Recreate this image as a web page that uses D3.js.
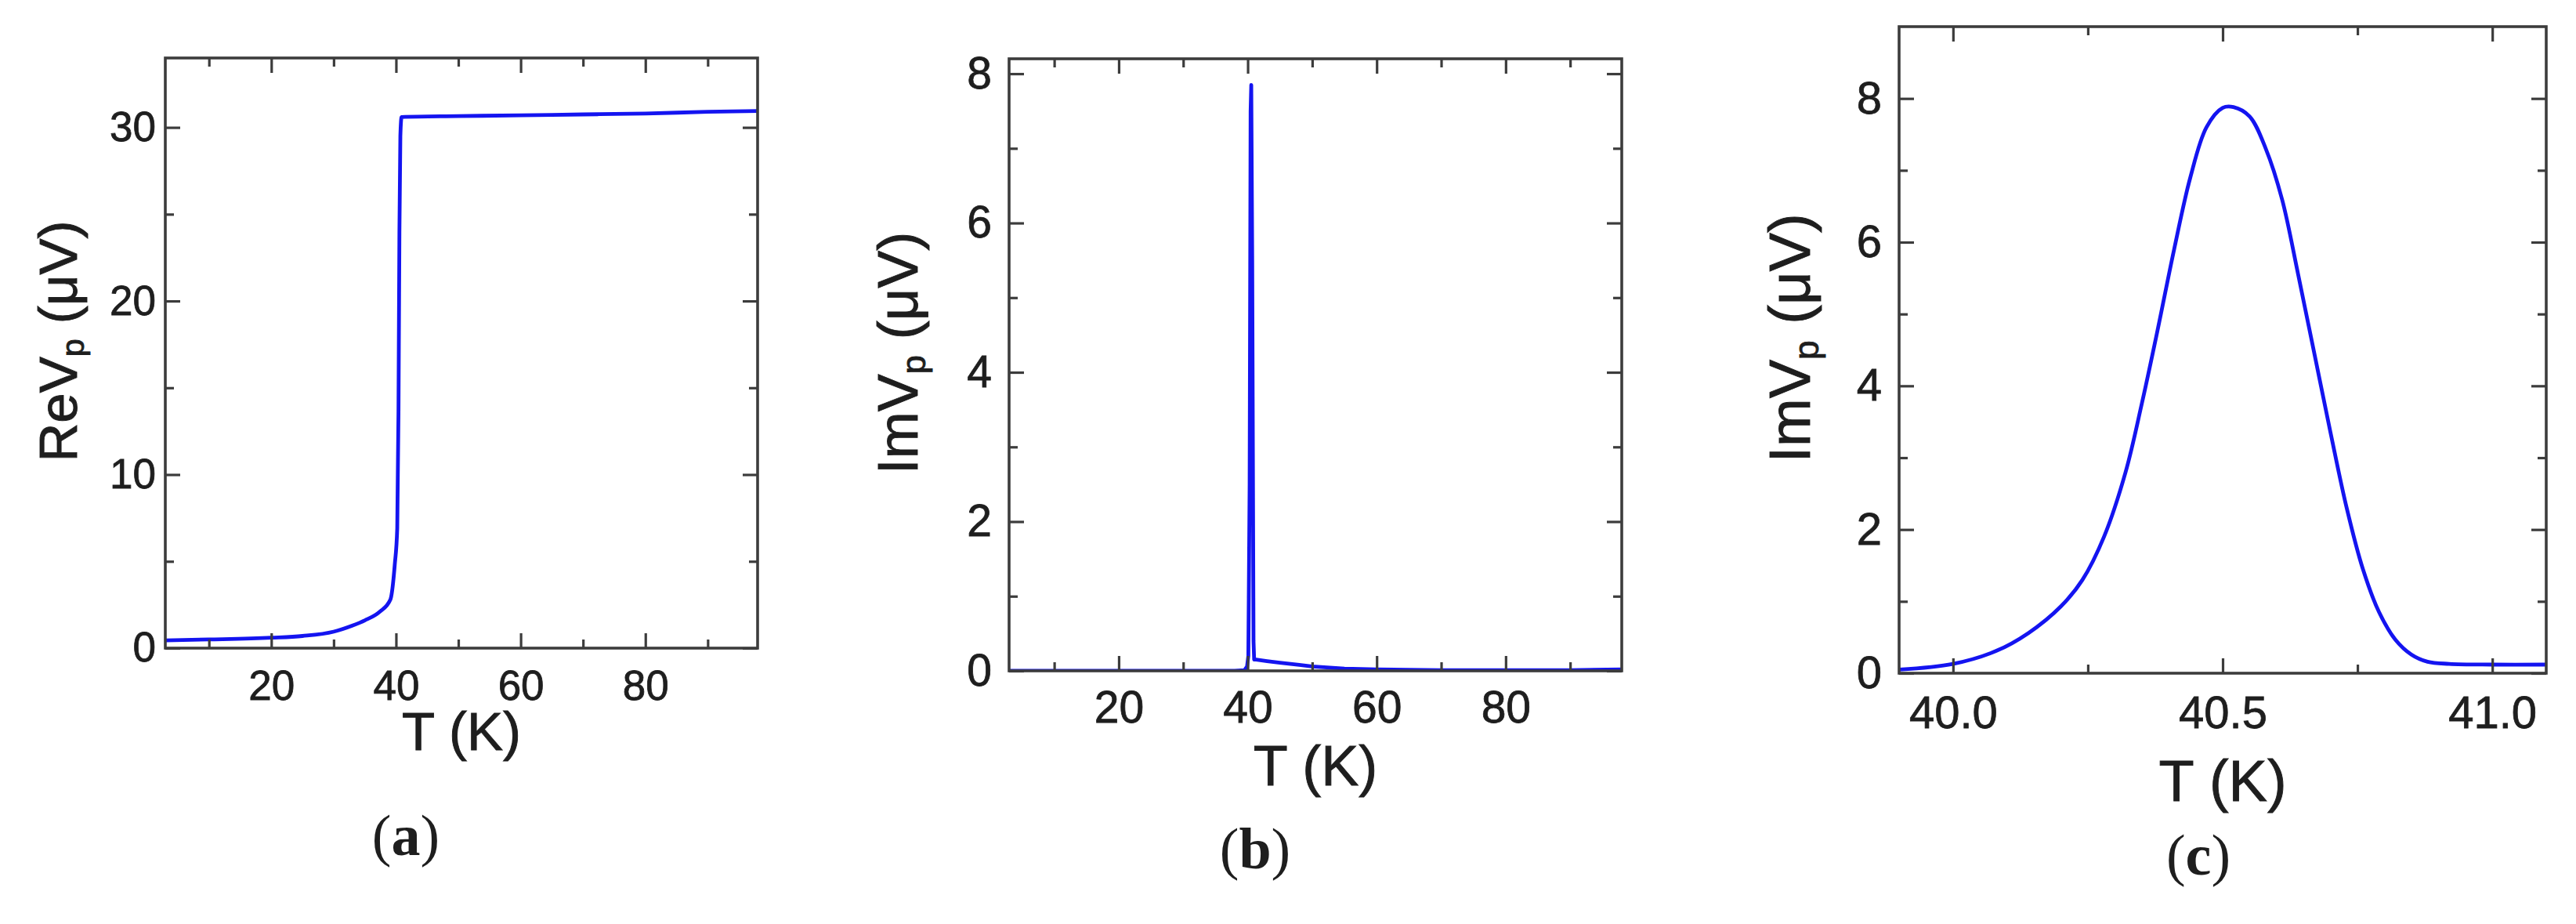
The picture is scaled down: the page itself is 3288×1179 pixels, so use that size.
<!DOCTYPE html>
<html><head><meta charset="utf-8">
<script src="https://cdn.jsdelivr.net/npm/d3@7"></script>
<style>
html,body{margin:0;padding:0;background:#fff;}
svg{display:block;}
text{font-family:Arial,"Liberation Sans",Helvetica,sans-serif;fill:#1e1e1e;}
</style></head>
<body>
<svg id="chart" width="3288" height="1179"></svg>
<script>
// ---------- DATA ----------
// Panel (a): Re Vp vs T
const tA  = [3, 10, 20, 25, 30, 33, 35, 37.4, 39.1, 39.8, 40.2, 40.4, 40.55, 40.7, 40.9, 50, 60, 70, 80, 90, 98];
const reA = [0.45, 0.5, 0.6, 0.7, 0.95, 1.3, 1.6, 2.1, 2.8, 4.8, 6.9, 13.6, 24, 29.5, 30.6, 30.65, 30.7, 30.75, 30.8, 30.9, 30.95];
// Panel (b): Im Vp vs T (wide range)
const tB  = [3, 10, 20, 30, 38, 39.5, 39.9, 40.1, 40.3, 40.45, 40.55, 40.7, 40.9, 41.0, 41.3, 43, 45, 48, 50, 55, 60, 70, 80, 90, 98];
const imB = [0, 0, 0, 0, 0, 0.01, 0.06, 0.2, 2.5, 7.5, 7.85, 5.5, 0.4, 0.15, 0.15, 0.13, 0.11, 0.08, 0.06, 0.03, 0.02, 0.01, 0.01, 0.01, 0.02];
// Panel (c): Im Vp vs T (zoom on the peak)
const tC  = [39.9, 40.0, 40.08, 40.14, 40.2, 40.24, 40.28, 40.32, 40.35, 40.38, 40.41, 40.44, 40.47, 40.5, 40.52, 40.55, 40.58, 40.61, 40.64, 40.67, 40.7, 40.73, 40.76, 40.79, 40.82, 40.85, 40.88, 40.92, 41.0, 41.1];
const imC = [0.05, 0.13, 0.31, 0.56, 0.93, 1.3, 1.9, 2.8, 3.75, 4.8, 5.9, 6.9, 7.6, 7.87, 7.88, 7.75, 7.3, 6.6, 5.55, 4.45, 3.35, 2.3, 1.45, 0.85, 0.47, 0.26, 0.16, 0.13, 0.12, 0.12];

// Ticks
const xTicksA = [20, 40, 60, 80], xMinorA = [10, 30, 50, 70, 90];
const yTicksA = [0, 10, 20, 30], yMinorA = [5, 15, 25];
const xTicksB = [20, 40, 60, 80], xMinorB = [10, 30, 50, 70, 90];
const yTicksB = [0, 2, 4, 6, 8], yMinorB = [1, 3, 5, 7];
const xTicksC = [40.0, 40.5, 41.0], xMinorC = [40.25, 40.75];
const yTicksC = [0, 2, 4, 6, 8], yMinorC = [1, 3, 5, 7];
const xDomA = [3, 98], yDomA = [0, 34];
const xDomB = [3, 98], yDomB = [0, 8.2];
const xDomC = [39.9, 41.1], yDomC = [0, 9];

const panels = [
  {x: tA, y: reA, xDom: xDomA, yDom: yDomA, xt: xTicksA, xm: xMinorA, yt: yTicksA, ym: yMinorA,
   xfmt: d3.format("d"), yfmt: d3.format("d"), yLabel: "ReV", tag: "a",
   box: {l: 211, r: 967, t: 74, b: 827}, tick: 53, title: 69, ylx: 74, xly: 957, tagx: 518, tagy: 1091, gapY: 12, gapX: 28, curve: d3.curveMonotoneX},
  {x: tB, y: imB, xDom: xDomB, yDom: yDomB, xt: xTicksB, xm: xMinorB, yt: yTicksB, ym: yMinorB,
   xfmt: d3.format("d"), yfmt: d3.format("d"), yLabel: "ImV", tag: "b",
   box: {l: 1288, r: 2070, t: 75, b: 856}, tick: 57, title: 72, ylx: 1146, xly: 1002, tagx: 1602, tagy: 1108, gapY: 22, gapX: 26, curve: d3.curveLinear},
  {x: tC, y: imC, xDom: xDomC, yDom: yDomC, xt: xTicksC, xm: xMinorC, yt: yTicksC, ym: yMinorC,
   xfmt: d3.format(".1f"), yfmt: d3.format("d"), yLabel: "ImV", tag: "c",
   box: {l: 2424, r: 3250, t: 34, b: 859}, tick: 58, title: 74, ylx: 2284, xly: 1022, tagx: 2806, tagy: 1116, gapY: 22, gapX: 29, curve: d3.curveCatmullRom.alpha(0.5)}
];

const svg = d3.select("#chart");
const frameColor = "#3c3c3c";

panels.forEach(p => {
  const B = p.box;
  const x = d3.scaleLinear().domain(p.xDom).range([B.l, B.r]);
  const y = d3.scaleLinear().domain(p.yDom).range([B.b, B.t]);
  const g = svg.append("g");

  // data line (clipped to frame)
  const cid = "clip" + p.tag;
  svg.append("clipPath").attr("id", cid).append("rect")
    .attr("x", B.l).attr("y", B.t - 3).attr("width", B.r - B.l).attr("height", B.b - B.t + 3);
  const line = d3.line().x((d, i) => x(p.x[i])).y((d, i) => y(p.y[i])).curve(p.curve);
  g.append("path").datum(p.y).attr("d", line).attr("clip-path", `url(#${cid})`)
    .attr("fill", "none").attr("stroke", "#1414f0").attr("stroke-width", 4.8)
    .attr("stroke-linejoin", "round").attr("stroke-linecap", "round");

  // axes with inward ticks on four sides
  function addAxis(gen, transform, vals, size, labels, fmt, fs, pad) {
    const a = gen.tickValues(vals).tickSizeInner(-size).tickSizeOuter(0);
    if (labels) a.tickFormat(fmt).tickPadding(pad); else a.tickFormat("");
    const ag = g.append("g").attr("transform", transform).call(a);
    ag.select(".domain").remove();
    ag.selectAll(".tick line").attr("stroke", frameColor).attr("stroke-width", 3.2);
    ag.selectAll(".tick text").attr("font-size", fs).attr("fill", "#1e1e1e")
      .attr("stroke", "#1e1e1e").attr("stroke-width", 0.8)
      .attr("font-family", "Arial, 'Liberation Sans', sans-serif");
    return ag;
  }
  addAxis(d3.axisBottom(x), `translate(0,${B.b})`, p.xt, 19, true, p.xfmt, p.tick, p.gapX);
  addAxis(d3.axisBottom(x), `translate(0,${B.b})`, p.xm, 11, false);
  addAxis(d3.axisTop(x), `translate(0,${B.t})`, p.xt, 19, false);
  addAxis(d3.axisTop(x), `translate(0,${B.t})`, p.xm, 11, false);
  addAxis(d3.axisLeft(y), `translate(${B.l},0)`, p.yt, 19, true, p.yfmt, p.tick, p.gapY);
  addAxis(d3.axisLeft(y), `translate(${B.l},0)`, p.ym, 11, false);
  addAxis(d3.axisRight(y), `translate(${B.r},0)`, p.yt, 19, false);
  addAxis(d3.axisRight(y), `translate(${B.r},0)`, p.ym, 11, false);

  // frame
  g.append("rect").attr("x", B.l).attr("y", B.t).attr("width", B.r - B.l).attr("height", B.b - B.t)
    .attr("fill", "none").attr("stroke", frameColor).attr("stroke-width", 3.6);

  // x title
  g.append("text").attr("x", (B.l + B.r) / 2).attr("y", p.xly).attr("text-anchor", "middle")
    .attr("font-size", p.title).attr("stroke", "#1e1e1e").attr("stroke-width", 0.9).text("T (K)");

  // y title (rotated) with subscript p
  const yt = g.append("text").attr("transform", `translate(${p.ylx},${(B.t + B.b) / 2 - 15}) rotate(-90)`)
    .attr("text-anchor", "middle").attr("dominant-baseline", "central").attr("font-size", p.title)
    .attr("stroke", "#1e1e1e").attr("stroke-width", 0.9);
  yt.append("tspan").text(p.yLabel);
  yt.append("tspan").attr("font-size", p.title * 0.6).attr("dy", p.title * 0.28).text("p");
  yt.append("tspan").attr("dy", -p.title * 0.28).text(" (\u03BCV)");

  // panel tag
  const tg = svg.append("text").attr("x", p.tagx).attr("y", p.tagy).attr("text-anchor", "middle")
    .attr("font-size", 74).style("font-family", "'Liberation Serif','Times New Roman',serif").attr("fill", "#000");
  tg.append("tspan").text("(");
  tg.append("tspan").attr("font-weight", "bold").text(p.tag);
  tg.append("tspan").text(")");
});
</script>
</body></html>
